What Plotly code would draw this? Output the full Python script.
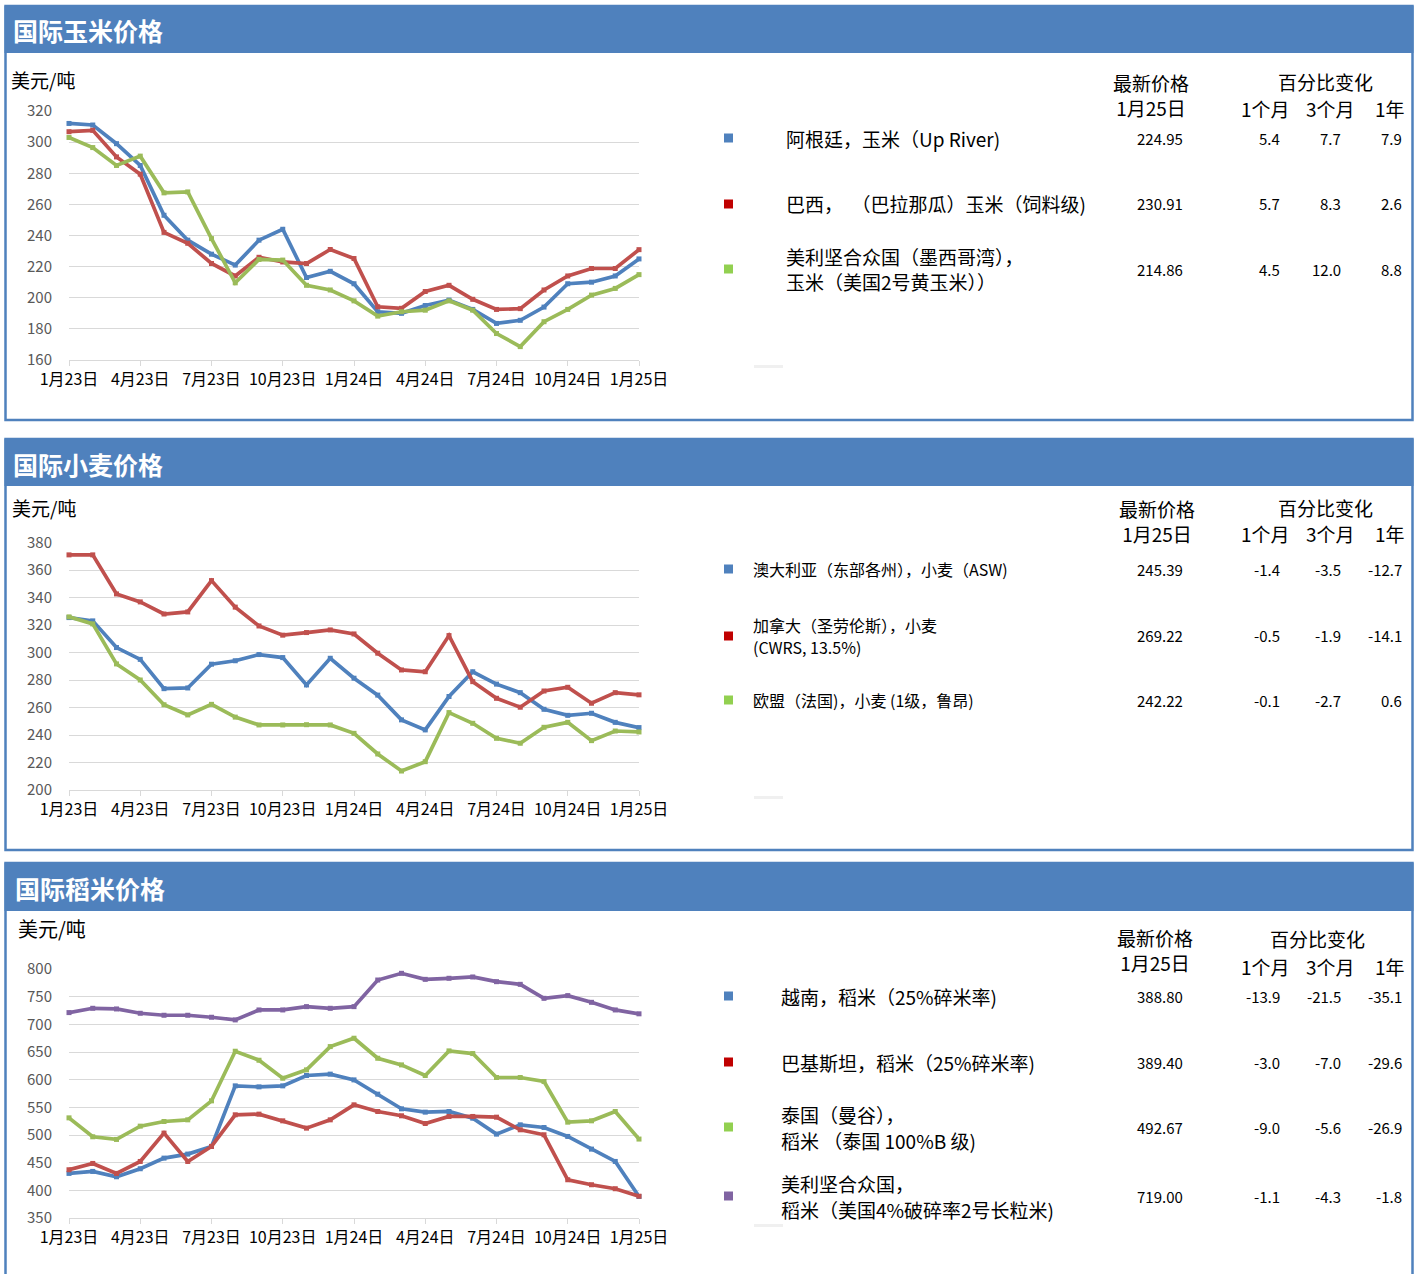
import plotly.graph_objects as go

W, H = 1427, 1274

# ---------------- data ----------------
months = ["2023-01", "2023-02", "2023-03", "2023-04", "2023-05", "2023-06", "2023-07",
          "2023-08", "2023-09", "2023-10", "2023-11", "2023-12", "2024-01", "2024-02",
          "2024-03", "2024-04", "2024-05", "2024-06", "2024-07", "2024-08", "2024-09",
          "2024-10", "2024-11", "2024-12", "2025-01"]
tick_months = ["2023-01", "2023-04", "2023-07", "2023-10", "2024-01", "2024-04",
               "2024-07", "2024-10", "2025-01"]
tick_labels = ["1月23日", "4月23日", "7月23日", "10月23日", "1月24日", "4月24日",
               "7月24日", "10月24日", "1月25日"]

corn_arg = [312, 311, 299, 285, 253, 237, 228, 221, 237, 244, 213, 217, 209, 191, 190,
            195, 198.5, 192.5, 183.5, 185.5, 194, 209, 210, 214, 224.95]
corn_bra = [306.7, 307.6, 290.5, 279.4, 242, 235, 222, 214, 226, 223, 222, 231, 225.2,
            194.2, 193.2, 204, 208, 199, 192.5, 193, 205, 214, 218.8, 218.8, 230.91]
corn_usa = [303, 296.5, 285, 291, 267.4, 268, 238, 209.6, 224.6, 224.2, 208, 205, 198,
            188.2, 191, 192, 198, 192, 177, 168.6, 184.6, 192.5, 201.7, 206, 214.86]

wheat_aus = [325.4, 323, 303.6, 295, 273.7, 274.2, 291.5, 294, 298.5, 296.3, 276.4,
             295.8, 281.3, 269, 251, 243.7, 268, 286, 277, 270.8, 258.7, 254.3, 255.8,
             249.2, 245.39]
wheat_can = [371, 371, 342.6, 336.8, 328, 329.5, 352.3, 333, 319.3, 312.6, 314.5,
             316.4, 313.5, 299.5, 287.3, 286, 312.3, 278.8, 266.7, 260.2, 272, 274.7,
             263.1, 270.8, 269.22]
wheat_eu = [325.9, 320.8, 291.7, 280, 262, 254.6, 262.3, 253, 247.3, 247.3, 247.5,
            247.3, 241.2, 226.2, 213.8, 220.6, 256.3, 248.5, 237.6, 234, 245.6, 249.2,
            235.9, 242.9, 242.22]

rice_vnm = [430.6, 434.2, 424.5, 439, 458.2, 465.5, 479.3, 588.8, 587, 588.8, 607.5,
            610, 599.6, 573.8, 547.3, 541.3, 542.5, 530.4, 501.6, 518.4, 513.6, 497.4,
            474.5, 452.2, 388.80]
rice_pak = [437.2, 448.6, 430.6, 452.2, 503.4, 452.2, 479.3, 536.5, 537.7, 525.6, 512.4,
            527.4, 554.5, 542.5, 534.7, 520.8, 533.5, 533.5, 532.2, 509.4, 500.4, 419.1,
            410.1, 402.9, 389.40]
rice_tha = [531, 496.8, 492, 516, 524.4, 527.4, 561.7, 651.4, 635.1, 602.6, 617.7,
            659.8, 674.9, 638.7, 626.7, 607.5, 652, 647.2, 603.9, 603.9, 596.6, 523.2,
            525.6, 542.5, 492.67]
rice_usa = [721.2, 729, 727.8, 720, 716.4, 716.4, 712.8, 708, 726, 726, 732, 729, 732,
            780.1, 792.2, 781.3, 783.2, 785.6, 777.1, 772.3, 747, 751.9, 739.8, 726,
            719.00]

panel_titles = ["国际玉米价格", "国际小麦价格", "国际稻米价格"]
unit_label = "美元/吨"
hdr_latest = "最新价格<br>1月25日"
hdr_change = "百分比变化"
hdr_periods = ["1个月", "3个月", "1年"]

corn_names = [["阿根廷，玉米（Up River)"], ["巴西，  （巴拉那瓜）玉米（饲料级)"],
              ["美利坚合众国（墨西哥湾），<br>玉米（美国2号黄玉米））"]]
corn_latest = ["224.95", "230.91", "214.86"]
corn_1m = ["5.4", "5.7", "4.5"]
corn_3m = ["7.7", "8.3", "12.0"]
corn_1y = ["7.9", "2.6", "8.8"]

wheat_names = [["澳大利亚（东部各州），小麦（ASW)"], ["加拿大（圣劳伦斯），小麦", "(CWRS, 13.5%)"],
               ["欧盟（法国)，小麦 (1级，鲁昂)"]]
wheat_latest = ["245.39", "269.22", "242.22"]
wheat_1m = ["-1.4", "-0.5", "-0.1"]
wheat_3m = ["-3.5", "-1.9", "-2.7"]
wheat_1y = ["-12.7", "-14.1", "0.6"]

rice_names = [["越南，稻米（25%碎米率)"], ["巴基斯坦，稻米（25%碎米率)"],
              ["泰国（曼谷），", "稻米 （泰国 100%B 级)"], ["美利坚合众国，", "稻米（美国4%破碎率2号长粒米)"]]
rice_latest = ["388.80", "389.40", "492.67", "719.00"]
rice_1m = ["-13.9", "-3.0", "-9.0", "-1.1"]
rice_3m = ["-21.5", "-7.0", "-5.6", "-4.3"]
rice_1y = ["-35.1", "-29.6", "-26.9", "-1.8"]

line_colors = {"blue": "#4f81bd", "red": "#c0504d", "green": "#9bbb59", "purple": "#8064a2"}
legend_colors = {"blue": "#4f81bd", "red": "#c00000", "green": "#92d050", "purple": "#8064a2"}

FONT = "Noto Sans CJK SC"
HEADER = "#4f81bd"


def px(x):
    return x / W


def py(y):
    return 1 - y / H


fig = go.Figure()

panels = [
    dict(series=[(corn_arg, "blue"), (corn_bra, "red"), (corn_usa, "green")],
         yr=[160, 320], dt=20, ytop=111, ybot=360),
    dict(series=[(wheat_aus, "blue"), (wheat_can, "red"), (wheat_eu, "green")],
         yr=[200, 380], dt=20, ytop=542.5, ybot=790),
    dict(series=[(rice_vnm, "blue"), (rice_pak, "red"), (rice_tha, "green"), (rice_usa, "purple")],
         yr=[350, 800], dt=50, ytop=969, ybot=1218),
]

X0, X1 = 69, 639
layout_axes = {}
for i, p in enumerate(panels):
    sfx = "" if i == 0 else str(i + 1)
    for vals, c in p["series"]:
        fig.add_trace(go.Scatter(
            x=months, y=vals, mode="lines+markers", xaxis="x" + sfx, yaxis="y" + sfx,
            line=dict(color=line_colors[c], width=3.7),
            marker=dict(symbol="square", size=5, color=line_colors[c]),
            cliponaxis=False, showlegend=False, hoverinfo="x+y"))
    layout_axes["xaxis" + sfx] = dict(
        domain=[px(X0), px(X1)], anchor="y" + sfx, type="category",
        categoryorder="array", categoryarray=months, range=[0, len(months) - 1],
        tickmode="array", tickvals=tick_months, ticktext=tick_labels,
        showgrid=False, showline=True, linecolor="#d9d9d9", linewidth=1,
        ticks="outside", ticklen=5, tickcolor="#d9d9d9", automargin=False,
        tickfont=dict(family=FONT, size=16, color="#000000"), fixedrange=True)
    layout_axes["yaxis" + sfx] = dict(
        domain=[py(p["ybot"]), py(p["ytop"])], anchor="x" + sfx,
        range=p["yr"], dtick=p["dt"], tick0=p["yr"][0], showgrid=True,
        gridcolor="#d9d9d9", gridwidth=1, zeroline=False, showline=False,
        ticks="", ticklabelstandoff=16, automargin=False,
        tickfont=dict(family=FONT, size=15, color="#595959"), fixedrange=True)

shapes = []
annotations = []


def text(x, y, s, size, anchor="left", color="#000000", bold=False):
    annotations.append(dict(xref="paper", yref="paper", x=px(x), y=py(y),
                            text=("<b>" + s + "</b>") if bold else s, showarrow=False,
                            xanchor=anchor, yanchor="middle", align=anchor,
                            borderpad=0,
                            font=dict(family=FONT, size=size, color=color)))


# panel frames and headers
frames = [(6, 53, 420), (439, 486, 850), (863, 911, 1290)]
for i, (ht, hb, bb) in enumerate(frames):
    shapes.append(dict(type="rect", xref="paper", yref="paper",
                       x0=px(5.5), x1=px(1412.5), y0=py(bb), y1=py(ht),
                       line=dict(color=HEADER, width=2.5), fillcolor="rgba(0,0,0,0)", layer="below"))
    shapes.append(dict(type="rect", xref="paper", yref="paper",
                       x0=px(4.5), x1=px(1413.5), y0=py(hb), y1=py(ht),
                       line=dict(width=0), fillcolor=HEADER, layer="below"))
    text(12 + (i == 2) * 2, (ht + hb) / 2 + 1, panel_titles[i], 25, color="#ffffff", bold=True)

# unit labels
for (ux, uy, us) in [(10, 80, 19), (11, 508, 19), (17, 929, 20)]:
    text(ux, uy, unit_label, us)

tables = [
    dict(names=corn_names, latest=corn_latest, m1=corn_1m, m3=corn_3m, y1=corn_1y,
         colors=["blue", "red", "green"], rows=[138, 204, 269], name_x=785, name_size=19, lh=22,
         h_latest=(1151, 95), h_change=(1325, 82), h_per=108, bar=365),
    dict(names=wheat_names, latest=wheat_latest, m1=wheat_1m, m3=wheat_3m, y1=wheat_1y,
         colors=["blue", "red", "green"], rows=[569, 636, 700], name_x=752, name_size=16, lh=22,
         h_latest=(1157, 521), h_change=(1325, 507), h_per=533, bar=796),
    dict(names=rice_names, latest=rice_latest, m1=rice_1m, m3=rice_3m, y1=rice_1y,
         colors=["blue", "red", "green", "purple"], rows=[996, 1062, 1127, 1196], name_x=780,
         name_size=19, lh=26, h_latest=(1155, 950), h_change=(1317, 938), h_per=966, bar=1224),
]

for t in tables:
    text(t["h_latest"][0], t["h_latest"][1], hdr_latest, 19, "center")
    text(t["h_change"][0], t["h_change"][1], hdr_change, 19, "center")
    for lbl, cx in zip(hdr_periods, [1265, 1330, 1390]):
        text(cx, t["h_per"], lbl, 19, "center")
    for k, ry in enumerate(t["rows"]):
        shapes.append(dict(type="rect", xref="paper", yref="paper",
                           x0=px(724), x1=px(733), y0=py(ry + 4.5), y1=py(ry - 4.5),
                           line=dict(width=0), fillcolor=legend_colors[t["colors"][k]]))
        lines = t["names"][k]
        n = len(lines)
        for j, ln in enumerate(lines):
            text(t["name_x"], ry + (j - (n - 1) / 2) * t["lh"], ln, t["name_size"])
        text(1160, ry, t["latest"][k], 15, "center")
        for col, rx in zip([t["m1"], t["m3"], t["y1"]], [1281, 1342, 1403]):
            text(rx, ry, col[k], 15, "right")
    shapes.append(dict(type="rect", xref="paper", yref="paper",
                       x0=px(754), x1=px(783), y0=py(t["bar"] + 3), y1=py(t["bar"]),
                       line=dict(width=0), fillcolor="#f0f0f0"))

fig.update_layout(
    width=W, height=H, autosize=False,
    margin=dict(l=0, r=0, t=0, b=0, pad=0, autoexpand=False),
    paper_bgcolor="#ffffff", plot_bgcolor="rgba(0,0,0,0)",
    font=dict(family=FONT), shapes=shapes, annotations=annotations,
    **layout_axes)

fig.write_html("out.html", config={"displayModeBar": False},
               post_script="document.body.style.margin='0';document.body.style.padding='0';"
                           "document.body.style.overflow='hidden';")
